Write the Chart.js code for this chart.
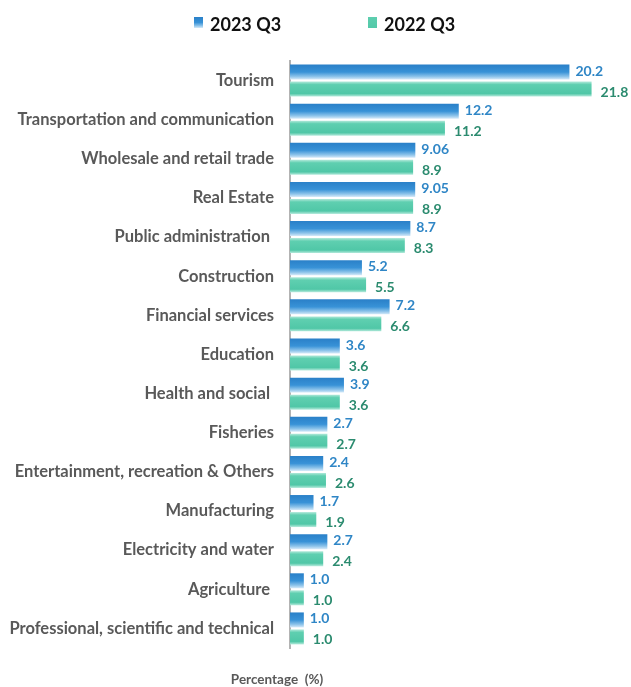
<!DOCTYPE html>
<html>
<head>
<meta charset="utf-8">
<script src="https://cdn.jsdelivr.net/npm/chart.js@4/dist/chart.umd.min.js"></script>
<style>
  html, body { margin: 0; padding: 0; background: #ffffff; }
  #wrap { width: 631px; height: 687px; position: relative; }
</style>
</head>
<body>
<div id="wrap"><canvas id="c" width="631" height="687"></canvas></div>
<script>
// Sectors (top to bottom)
const sectors = [
  'Tourism',
  'Transportation and communication',
  'Wholesale and retail trade',
  'Real Estate',
  'Public administration ',
  'Construction',
  'Financial services',
  'Education',
  'Health and social ',
  'Fisheries',
  'Entertainment, recreation & Others',
  'Manufacturing',
  'Electricity and water',
  'Agriculture ',
  'Professional, scientific and technical'
];

// Share of total (%)
const q3_2023 = [20.2, 12.2, 9.06, 9.05, 8.7, 5.2, 7.2, 3.6, 3.9, 2.7, 2.4, 1.7, 2.7, 1.0, 1.0];
const q3_2022 = [21.8, 11.2, 8.9, 8.9, 8.3, 5.5, 6.6, 3.6, 3.6, 2.7, 2.6, 1.9, 2.4, 1.0, 1.0];

const seriesNames = ['2023 Q3', '2022 Q3'];
const axisTitle = 'Percentage  (%)';

const FONT = 'Lato, "Open Sans", "Liberation Sans", sans-serif';
const LABEL_GRAY = '#595959';
const VALUE_COLORS = ['#2f86c6', '#2b8b6f'];

function fmt(v) {
  const hundredths = Math.round(v * 100);
  return (hundredths % 10 !== 0) ? v.toFixed(2) : v.toFixed(1);
}

function blueGradient(ctx, top, bottom) {
  const g = ctx.createLinearGradient(0, top, 0, bottom);
  g.addColorStop(0, '#2a80c8');
  g.addColorStop(0.5, '#3892d7');
  g.addColorStop(0.8, '#8cc3ea');
  g.addColorStop(1, '#d6eaf9');
  return g;
}
function greenGradient(ctx, top, bottom) {
  const g = ctx.createLinearGradient(0, top, 0, bottom);
  g.addColorStop(0, '#b2e9da');
  g.addColorStop(0.2, '#5fcfb0');
  g.addColorStop(0.8, '#50c7a7');
  g.addColorStop(1, '#b8ebdd');
  return g;
}

// Per-bar vertical gradients, computed once each bar has its geometry
const barShading = {
  id: 'barShading',
  beforeDatasetsDraw(chart) {
    const ctx = chart.ctx;
    chart.data.datasets.forEach((ds, di) => {
      const meta = chart.getDatasetMeta(di);
      meta.data.forEach(el => {
        const top = el.y - el.height / 2;
        const bottom = el.y + el.height / 2;
        el.options.backgroundColor = di === 0 ? blueGradient(ctx, top, bottom) : greenGradient(ctx, top, bottom);
      });
    });
  }
};

// Value labels at the end of each bar
const valueLabels = {
  id: 'valueLabels',
  afterDatasetsDraw(chart) {
    const ctx = chart.ctx;
    ctx.save();
    ctx.font = 'bold 14px ' + FONT;
    ctx.textAlign = 'left';
    ctx.textBaseline = 'middle';
    chart.data.datasets.forEach((ds, di) => {
      const meta = chart.getDatasetMeta(di);
      ctx.fillStyle = VALUE_COLORS[di];
      meta.data.forEach((el, i) => {
        const dx = di === 0 ? 6 : 9;
        const dy = di === 0 ? -1 : 3;
        ctx.fillText(fmt(ds.data[i]), el.x + dx, el.y + dy);
      });
    });
    ctx.restore();
  }
};

// Series key across the top and the axis caption underneath
const chrome = {
  id: 'chrome',
  afterDraw(chart) {
    const ctx = chart.ctx;
    ctx.save();
    const keys = [
      { x: 194, fill: blueGradient(ctx, 17, 28) },
      { x: 368, fill: greenGradient(ctx, 10, 36) }
    ];
    ctx.font = 'bold 18px ' + FONT;
    ctx.textBaseline = 'middle';
    ctx.textAlign = 'left';
    keys.forEach((k, i) => {
      ctx.fillStyle = k.fill;
      ctx.fillRect(k.x, 17, 9, 11);
      ctx.fillStyle = '#111111';
      ctx.fillText(seriesNames[i], k.x + 16, 25);
    });
    ctx.font = 'bold 13.5px ' + FONT;
    ctx.fillStyle = LABEL_GRAY;
    ctx.textAlign = 'center';
    ctx.fillText(axisTitle, 277, 680);
    ctx.restore();
  }
};

new Chart(document.getElementById('c'), {
  type: 'bar',
  data: {
    labels: sectors,
    datasets: [
      // scriptable colours give every bar its own options object
      { label: seriesNames[0], data: q3_2023, backgroundColor: () => '#3590d6',
        categoryPercentage: 0.87, barPercentage: 0.88 },
      { label: seriesNames[1], data: q3_2022, backgroundColor: () => '#55c9a9',
        categoryPercentage: 0.87, barPercentage: 0.88 }
    ]
  },
  options: {
    indexAxis: 'y',
    responsive: false,
    animation: false,
    layout: { padding: { top: 61, right: 9, bottom: 39, left: 0 } },
    plugins: {
      legend: { display: false },
      tooltip: { enabled: false }
    },
    scales: {
      x: {
        min: 0,
        max: 24,
        display: true,
        ticks: { display: false },
        grid: { display: false, drawTicks: false },
        border: { display: false }
      },
      y: {
        grid: { display: false, drawTicks: false },
        border: { display: true, color: '#b3b3b3', width: 2 },
        ticks: {
          color: LABEL_GRAY,
          font: { family: FONT, size: 16.5, weight: 'bold' },
          padding: 16,
          autoSkip: false
        },
        afterFit(scale) { scale.width = 290; }
      }
    }
  },
  plugins: [barShading, valueLabels, chrome]
});
</script>
</body>
</html>
